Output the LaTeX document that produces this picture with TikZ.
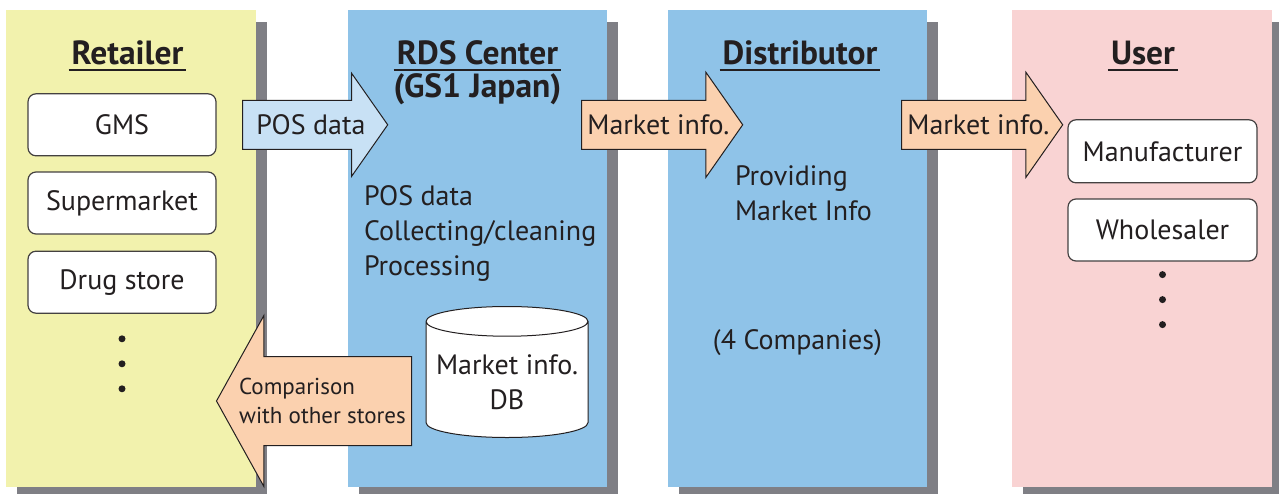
\documentclass[tikz,border=0pt]{standalone}
\usepackage{fontspec}
\setmainfont{PT Sans}
\usetikzlibrary{positioning,shapes.arrows,shapes.geometric,shadows}

\definecolor{retailcol}{HTML}{F2F2AD}
\definecolor{centercol}{HTML}{8FC3E8}
\definecolor{usercol}{HTML}{F9D3D3}
\definecolor{shadowcol}{HTML}{7F7F85}
\definecolor{poscol}{HTML}{C8E1F5}
\definecolor{infocol}{HTML}{FBD1AF}
\definecolor{inkcol}{HTML}{231F20}

\newcommand{\bodyfont}{\fontsize{28}{35}\selectfont}
\newcommand{\smallbody}{\fontsize{23}{29}\selectfont}

\tikzstyle{panel} = [rectangle, minimum height=477pt, inner sep=0pt, drop shadow={shadow xshift=11pt, shadow yshift=-12pt, fill=shadowcol, opacity=1}]
\tikzstyle{heading} = [font=\fontsize{33.5}{33.5}\selectfont\bfseries, text=inkcol, inner xsep=3pt, inner ysep=0pt, text height=24pt, text depth=6pt]
\tikzstyle{rule} = [draw=inkcol, line width=1.8pt]
\tikzstyle{member} = [rectangle, rounded corners=8pt, minimum width=188pt, minimum height=62pt, draw=inkcol!85, line width=1.2pt, fill=white, font=\bodyfont, text=inkcol]
\tikzstyle{plain} = [font=\bodyfont, text=inkcol, align=left, inner sep=0pt]
\tikzstyle{flow} = [single arrow, draw=inkcol, line width=1pt, inner xsep=0pt, inner ysep=24pt, single arrow head extend=28pt, single arrow tip angle=110, minimum height=161pt, fill=infocol]

\begin{document}
\begin{tikzpicture}[x=1pt, y=-1pt]
	\useasboundingbox (0,0) rectangle (1279,493);
	% columns
	\node (retailer) [panel, fill=retailcol, minimum width=250pt] at (131,248.5) {};
	\node (rds) [panel, fill=centercol, minimum width=259pt] at (477.5,248.5) {};
	\node (dist) [panel, fill=centercol, minimum width=259pt] at (797.5,248.5) {};
	\node (user) [panel, fill=usercol, minimum width=260pt] at (1142,248.5) {};

	% headings
	\node (rettitle) [heading, below=30pt of retailer.north, xshift=-3.5pt] {Retailer};
	\node (rdstitle) [heading, below=30pt of rds.north] {RDS Center};
	\node (gs1) [heading, below=3pt of rdstitle] {(GS1 Japan)};
	\node (disttitle) [heading, below=30pt of dist.north, xshift=2.5pt] {Distributor};
	\node (usertitle) [heading, below=30pt of user.north, xshift=1pt] {User};
	\foreach \t in {rettitle,rdstitle,disttitle,usertitle}
		\draw [rule] (\t.south west) -- (\t.south east);

	% retailers
	\node (gms) [member, below=23pt of rettitle, xshift=-5.5pt] {GMS};
	\node (super) [member, below=15pt of gms] {Supermarket};
	\node (drug) [member, below=16pt of super] {Drug store};
	\foreach \d in {25,50,75}
		\fill [inkcol] ([yshift=-\d pt]drug.south) circle (3.5pt);

	% users
	\node (maker) [member, below=49pt of usertitle, xshift=19.5pt, minimum width=189pt, minimum height=63pt] {Manufacturer};
	\node (whole) [member, below=15pt of maker, minimum width=189pt] {Wholesaler};
	\foreach \d in {13,38,63}
		\fill [inkcol] ([yshift=-\d pt]whole.south) circle (3.5pt);

	% center and distributor texts
	\node (rdstext) [plain, anchor=north west] at ([xshift=16pt, yshift=-176pt]rds.north west) {POS data\\Collecting/cleaning\\Processing};
	\node (disttext) [plain, anchor=north west] at ([xshift=67pt, yshift=-156pt]dist.north west) {Providing\\Market Info};
	\node (count) [plain, anchor=base] at ([yshift=-100.5pt]dist.center) {(4 Companies)};
	\node (db) [cylinder, shape border rotate=90, aspect=0.2, draw=inkcol, line width=1pt, fill=white, minimum width=162pt, minimum height=131pt, font=\bodyfont, align=center, text=inkcol, anchor=bottom] at (507,438) {Market info.\\DB};

	% flows
	\node (posflow) [flow, fill=poscol, minimum height=145pt, single arrow head extend=27pt, anchor=tail] at ([xshift=-14pt]retailer.east |- gms) {};
	\node (info1) [flow, anchor=tail] at ([xshift=-26pt]rds.east |- gms) {};
	\node (info2) [flow, anchor=tail] at ([xshift=-26pt]dist.east |- gms) {};
	\node (cmpflow) [flow, shape border rotate=180, inner ysep=44pt, single arrow head extend=41pt, single arrow tip angle=122, minimum height=195pt, anchor=tail] at (412,401) {};

	\node (poslbl) [plain, right=14pt of posflow.tail] {POS data};
	\node (info1lbl) [plain, right=6pt of info1.tail] {Market info.};
	\node (info2lbl) [plain, right=6pt of info2.tail] {Market info.};
	\node (cmplbl) [plain, font=\smallbody, right=23pt of cmpflow.tip] {Comparison\\with other stores};
\end{tikzpicture}
\end{document}
